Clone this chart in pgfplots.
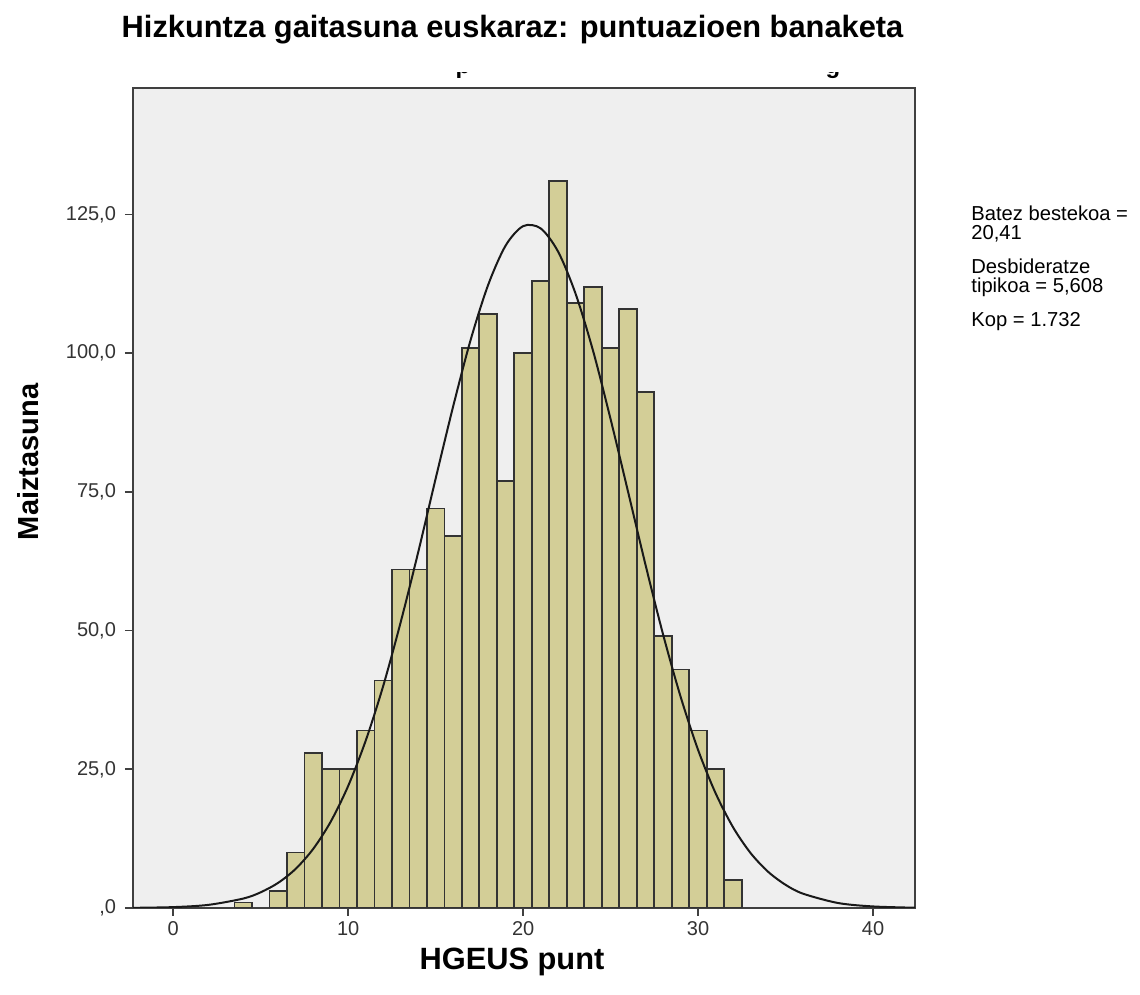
\documentclass[border=0pt]{standalone}
\usepackage{fontspec}
\setmainfont{Liberation Sans}
\usepackage{pgfplots}
\pgfplotsset{compat=1.18}
\definecolor{barfill}{HTML}{D3CE97}
\definecolor{plotbg}{HTML}{EFEFEF}
\definecolor{frame}{HTML}{404040}
\begin{document}
\begin{tikzpicture}
\path[use as bounding box] (-66.5pt,-43.5pt) rectangle (503.5pt,454pt);
\begin{axis}[
  at={(0pt,0pt)}, anchor=south west,
  scale only axis, width=391pt, height=410pt,
  xmin=-2.3, xmax=42.4, ymin=0, ymax=147.8,
  axis background/.style={fill=plotbg},
  axis line style={frame, line width=1pt},
  xtick={0,10,20,30,40},
  ytick={0,25,50,75,100,125},
  yticklabels={{,0},{25,0},{50,0},{75,0},{100,0},{125,0}},
  tick align=outside, tick pos=left,
  major tick length=4pt,
  tick style={frame, line width=0.9pt},
  /pgf/number format/assume math mode=true,
  ticklabel style={font=\fontsize{10pt}{12pt}\selectfont, text=black!80},
  yticklabel style={xshift=-1pt},
  xticklabel style={yshift=1pt},
  clip=true,
]
\addplot[ybar, bar width=1, fill=barfill, draw=black!80, line width=0.9pt]
coordinates {
(4,1) (6,3) (7,10) (8,28) (9,25) (10,25) (11,32) (12,41) (13,61) (14,61)
(15,72) (16,67) (17,101) (18,107) (19,77) (20,100) (21,113) (22,131)
(23,109) (24,112) (25,101) (26,108) (27,93) (28,49) (29,43) (30,32)
(31,25) (32,5)
};
\addplot[smooth, black!90, line width=1pt] coordinates {
(-2.3,0.03) (0,0.16) (2,0.56) (4,1.70) (5,2.83) (6,4.54) (7,7.06) (8,10.65)
(9,15.55) (10,22.0) (11,30.15) (12,40.0) (13,51.5) (14,64.1) (15,77.4)
(16,90.4) (17,102.4) (18,112.3) (19,119.4) (20,122.9)
(21,122.5) (22,118.3) (23,110.7) (24,100.4) (25,88.1) (26,75.0) (27,61.8)
(28,49.3) (29,38.1) (30,28.5) (31,20.7) (32,14.55) (33,9.91) (34,6.54)
(35,4.18) (36,2.58) (38,0.90) (40,0.28) (42.4,0.05)
};
\end{axis}
% remnants of a hidden title above the frame
\begin{scope}
\clip (0pt,410.5pt) rectangle (391pt,417.5pt);
\node[anchor=base, inner sep=0pt, font=\bfseries\fontsize{12pt}{14pt}\selectfont] at (165pt,417pt) {p};
\node[anchor=base, inner sep=0pt, font=\bfseries\fontsize{12pt}{14pt}\selectfont] at (350pt,417pt) {g};
\end{scope}
\node[font=\bfseries\fontsize{15.4pt}{18pt}\selectfont] at (189.75pt,439pt) {Hizkuntza gaitasuna euskaraz: puntuazioen banaketa};
\node[font=\bfseries\fontsize{15.4pt}{18pt}\selectfont] at (189.5pt,-27pt) {HGEUS punt};
\node[font=\bfseries\fontsize{14.5pt}{17pt}\selectfont, rotate=90] at (-52.5pt,223pt) {Maiztasuna};
\node[anchor=base west, align=left, inner sep=0pt, font=\fontsize{10.1pt}{9.5pt}\selectfont] at (419pt,290.5pt)
 {Batez bestekoa =\\20,41\\[7.5pt]Desbideratze\\tipikoa = 5,608\\[7.5pt]Kop = 1.732};
\end{tikzpicture}
\end{document}
